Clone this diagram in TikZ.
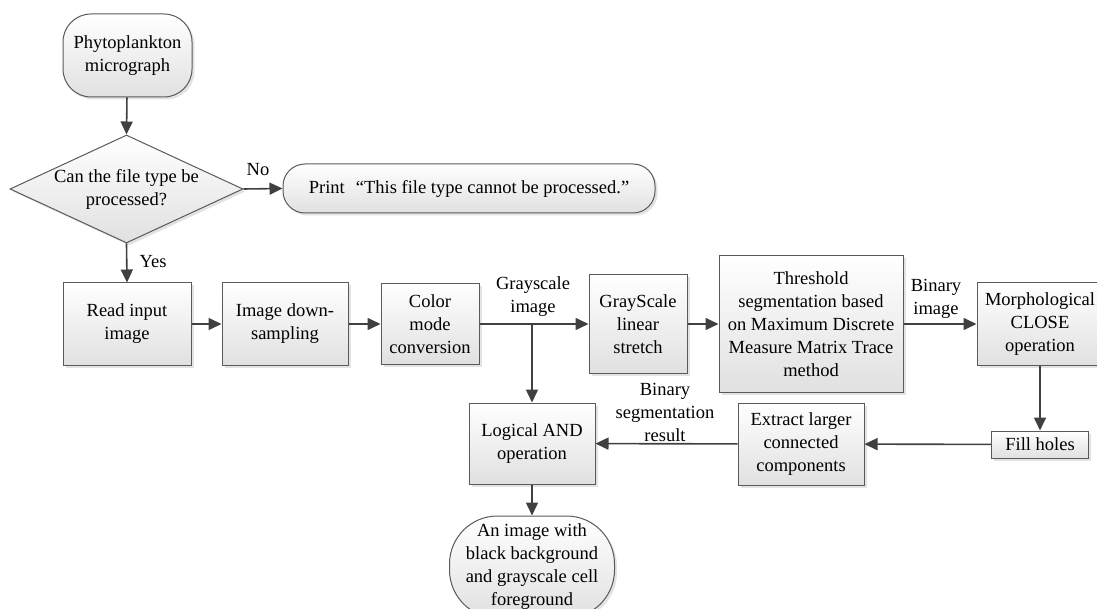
\documentclass[tikz,border=0pt]{standalone}
\usepackage{fontspec}
\setmainfont{Liberation Serif}
\usetikzlibrary{shapes.geometric,arrows.meta,shadows}
\definecolor{lc}{HTML}{404040}
\definecolor{bc}{HTML}{5A5A5A}
\newcommand{\fs}{\fontsize{18.5}{23}\selectfont}
\tikzset{
  shade box/.style={draw=bc, line width=1pt, top color=white, bottom color=black!12,
    drop shadow={opacity=0.22, shadow xshift=2.5pt, shadow yshift=-2.5pt}},
  box/.style={shade box, rectangle, align=center, inner sep=0pt, font=\fs},
  term/.style={box},
  lbl/.style={align=center, inner sep=0pt, font=\fs},
  flow/.style={draw=lc, line width=1.6pt, -{Triangle[length=13pt,width=12pt]}},
}
\begin{document}
\begin{tikzpicture}[x=1pt,y=-1pt]
\useasboundingbox (0,0) rectangle (1097,609);
\fill[white] (0,0) rectangle (1097,609);
\clip (0,0) rectangle (1097,609);

\node[term, rounded corners=28pt, minimum width=129pt, minimum height=83pt] (start) at (127.5,55.5) {Phytoplankton\\micrograph};
\node[shade box, diamond, minimum width=233pt, minimum height=108pt, inner sep=0pt] (dec) at (126.5,189) {};
\node[lbl] (dect) at (dec.center) {Can the file type be\\processed?};
\node[term, rounded corners=22pt, minimum width=372pt, minimum height=49pt] (print) at (469,188.5) {Print\hspace{0.6em}“This file type cannot be processed.”};

\node[box, minimum width=128pt, minimum height=82pt] (read) at (127,324) {Read input\\image};
\node[box, minimum width=126pt, minimum height=82pt] (down) at (285,324) {Image down-\\sampling};
\node[box, minimum width=98pt, minimum height=81pt] (color) at (430,324) {Color\\mode\\conversion};
\node[box, minimum width=98pt, minimum height=99pt] (stretch) at (638,324) {GrayScale\\linear\\stretch};
\node[box, minimum width=184pt, minimum height=137pt] (thresh) at (811,324) {Threshold\\segmentation based\\on Maximum Discrete\\Measure Matrix Trace\\method};
\node[box, minimum width=126pt, minimum height=82pt] (morph) at (1040,324) {Morphological\\CLOSE\\operation};
\node[box, minimum width=97pt, minimum height=27pt] (fill) at (1040,444.5) {Fill holes};
\node[box, minimum width=126pt, minimum height=82pt] (extract) at (801,444) {Extract larger\\connected\\components};
\node[box, minimum width=126pt, minimum height=81pt] (and) at (532,443.5) {Logical AND\\operation};
\node[term, rounded corners=48pt, minimum width=165pt, minimum height=102pt] (end) at (532,567) {An image with\\black background\\and grayscale cell\\foreground};

\node[lbl] (lno) at (258,170) {No};
\node[lbl] (lyes) at (153,262) {Yes};
\node[lbl] (lgray) at (533,296.5) {Grayscale\\image};
\node[lbl] (lbin) at (936,299) {Binary\\image};
\node[lbl] (lbsr) at (665,412.5) {Binary\\segmentation\\result};

\coordinate (br) at (and.north |- color.east);

\draw[flow] (start) -- (dec.north);
\draw[flow] (dec.east) -- (print.west);
\draw[flow] (dec.south) -- (read.north);
\draw[flow] (read) -- (down);
\draw[flow] (down) -- (color);
\draw[flow] (color) -- (stretch);
\draw[flow] (br) -- (and.north);
\draw[flow] (stretch) -- (thresh);
\draw[flow] (thresh) -- (morph);
\draw[flow] (morph) -- (fill);
\draw[flow] (fill) -- (extract);
\draw[flow] (extract) -- (and);
\draw[flow] (and) -- (end);
\end{tikzpicture}
\end{document}
